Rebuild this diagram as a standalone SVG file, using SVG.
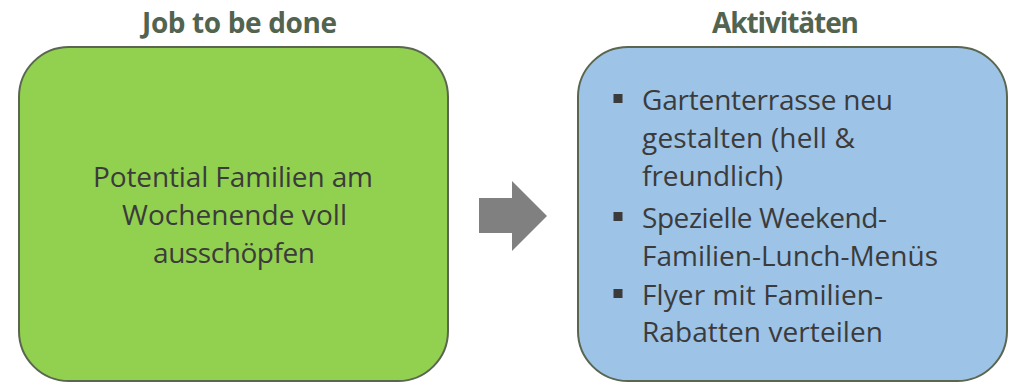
<svg xmlns="http://www.w3.org/2000/svg" width="1014" height="382" viewBox="0 0 1014 382">
<style>
.title{font-family:"Open Sans","Liberation Sans",sans-serif;font-weight:bold;font-size:28px;fill:#526350;text-anchor:middle}
.body{font-family:"Open Sans","Liberation Sans",sans-serif;font-size:28px;fill:#3b3b3b}
.c{text-anchor:middle}
.box{stroke:#5a6650;stroke-width:2}
.bullet{fill:#3b3b3b}
</style>
<rect width="1014" height="382" fill="#ffffff"/>
<g id="job">
<text class="title" x="239.5" y="33" textLength="195">Job to be done</text>
<rect class="box" x="19" y="47" width="429" height="334" rx="50" ry="50" fill="#92d050"/>
<text class="body c" x="233" y="187" textLength="280">Potential Familien am</text>
<text class="body c" x="234.5" y="225" textLength="225">Wochenende voll</text>
<text class="body c" x="234" y="263" textLength="162">ausschöpfen</text>
</g>
<g id="connectors">
<polygon points="479,198 512,198 512,181 547,216 512,251 512,233 479,233" fill="#808080"/>
</g>
<g id="aktivitaeten">
<text class="title" x="785.5" y="33" textLength="147">Aktivitäten</text>
<rect class="box" x="578" y="47" width="429" height="334" rx="50" ry="50" fill="#9dc3e6"/>
<rect class="bullet" x="613.5" y="94" width="9" height="9"/>
<text class="body" x="642" y="110" textLength="251">Gartenterrasse neu</text>
<text class="body" x="642" y="148" textLength="213">gestalten (hell &amp;</text>
<text class="body" x="642" y="186" textLength="141">freundlich)</text>
<rect class="bullet" x="613.5" y="212" width="9" height="9"/>
<text class="body" x="642" y="228" textLength="245">Spezielle Weekend-</text>
<text class="body" x="642" y="266" textLength="296">Familien-Lunch-Menüs</text>
<rect class="bullet" x="613.5" y="289" width="9" height="9"/>
<text class="body" x="642" y="305" textLength="241">Flyer mit Familien-</text>
<text class="body" x="642" y="342" textLength="241">Rabatten verteilen</text>
</g>
</svg>
